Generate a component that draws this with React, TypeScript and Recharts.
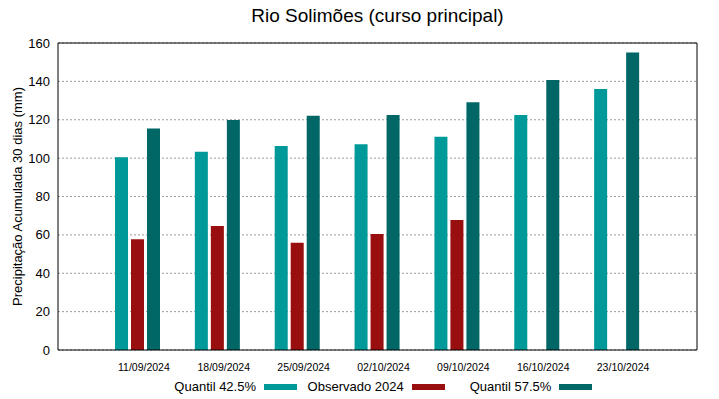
import { Bar, BarChart, CartesianGrid, XAxis, YAxis } from "recharts";

const categories = [
  "11/09/2024",
  "18/09/2024",
  "25/09/2024",
  "02/10/2024",
  "09/10/2024",
  "16/10/2024",
  "23/10/2024",
];
const quantil425 = [100.4, 103.3, 106.3, 107.2, 111.2, 122.5, 136.0];
const observado2024: Array<number | null> = [57.7, 64.6, 55.9, 60.4, 67.7, null, null];
const quantil575 = [115.4, 119.9, 122.1, 122.5, 129.1, 140.7, 155.1];
const yTicks = [0, 20, 40, 60, 80, 100, 120, 140, 160];

const seriesNames = ["Quantil 42.5%", "Observado 2024", "Quantil 57.5%"];
const seriesColors = ["#009999", "#990f0f", "#006666"];

const FONT = "'Liberation Sans', Arial, sans-serif";

const rows = categories.map((date, i) => ({
  date,
  q425: quantil425[i],
  obs: observado2024[i],
  q575: quantil575[i],
}));

// gnuplot-style date labels sit a little right of their tic
function DateTick(props: any) {
  const { x, y, payload } = props;
  return (
    <text
      x={x + 6}
      y={y}
      dy="0.71em"
      textAnchor="middle"
      fontSize={10.5}
      fill="#000"
      fontFamily={FONT}
    >
      {payload.value}
    </text>
  );
}

function YLabel(props: any) {
  const vb = props.viewBox;
  const cx = vb.x + 17;
  const cy = vb.y + vb.height / 2;
  return (
    <text
      x={cx}
      y={cy}
      transform={`rotate(-90 ${cx} ${cy})`}
      textAnchor="middle"
      dominantBaseline="central"
      fontSize={13}
      fill="#000"
      fontFamily={FONT}
    >
      Precipitação Acumulada 30 dias (mm)
    </text>
  );
}

const pad = { left: 40, right: 40 };

export default function App() {
  return (
    <div
      style={{
        position: "absolute",
        left: 0,
        top: 0,
        width: 719,
        height: 399,
        background: "#fff",
        fontFamily: FONT,
      }}
    >
      <div
        style={{
          position: "absolute",
          left: 58,
          top: 6,
          width: 639,
          textAlign: "center",
          fontSize: 19,
          lineHeight: "19px",
          color: "#000",
        }}
      >
        Rio Solimões (curso principal)
      </div>
      <BarChart
        width={719}
        height={399}
        data={rows}
        margin={{ top: 43, right: 22, bottom: 19, left: 0 }}
        barSize={13}
        barGap={3}
      >
        <CartesianGrid
          vertical={false}
          stroke="#9a9a9a"
          strokeDasharray="2 2"
        />
        <XAxis
          dataKey="date"
          interval={0}
          padding={pad}
          tickLine={false}
          tickMargin={8}
          axisLine={{ stroke: "#000" }}
          tick={<DateTick />}
          height={30}
        />
        <XAxis
          xAxisId="bottomTics"
          dataKey="date"
          interval={0}
          padding={pad}
          mirror
          tick={false}
          tickSize={5}
          axisLine={false}
          tickLine={{ stroke: "#000" }}
        />
        <XAxis
          xAxisId="top"
          orientation="top"
          dataKey="date"
          interval={0}
          padding={pad}
          mirror
          tick={false}
          tickSize={5}
          axisLine={{ stroke: "#000" }}
          tickLine={{ stroke: "#000" }}
        />
        <YAxis
          width={58}
          domain={[0, 160]}
          ticks={yTicks}
          interval={0}
          tickLine={false}
          axisLine={{ stroke: "#000" }}
          tick={{ fontSize: 13, fill: "#000", fontFamily: FONT }}
          label={<YLabel />}
        />
        <YAxis
          yAxisId="leftTics"
          type="number"
          domain={[0, 160]}
          ticks={yTicks}
          interval={0}
          mirror
          tick={false}
          tickSize={5}
          axisLine={false}
          tickLine={{ stroke: "#000" }}
        />
        <YAxis
          yAxisId="right"
          orientation="right"
          type="number"
          domain={[0, 160]}
          ticks={yTicks}
          interval={0}
          mirror
          tick={false}
          tickSize={5}
          axisLine={{ stroke: "#000" }}
          tickLine={{ stroke: "#000" }}
        />
        <Bar dataKey="q425" name={seriesNames[0]} fill={seriesColors[0]} isAnimationActive={false} />
        <Bar dataKey="obs" name={seriesNames[1]} fill={seriesColors[1]} isAnimationActive={false} />
        <Bar dataKey="q575" name={seriesNames[2]} fill={seriesColors[2]} isAnimationActive={false} />
      </BarChart>
      <div
        style={{
          position: "absolute",
          left: 150,
          top: 379,
          display: "flex",
          fontSize: 13,
          lineHeight: "16px",
          color: "#000",
        }}
      >
        {seriesNames.map((name, i) => (
          <div key={name} style={{ width: 147.7, display: "flex", alignItems: "center" }}>
            <span style={{ width: 106, textAlign: "right", whiteSpace: "nowrap" }}>{name}</span>
            <span
              style={{
                display: "inline-block",
                width: 33,
                height: 6,
                marginLeft: 8,
                background: seriesColors[i],
              }}
            />
          </div>
        ))}
      </div>
    </div>
  );
}
